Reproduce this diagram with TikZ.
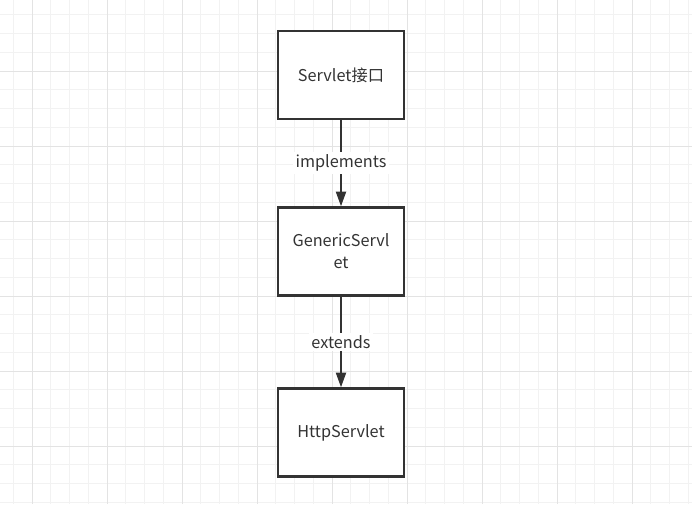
\documentclass[tikz,border=0pt]{standalone}
\usepackage{fontspec}
\usepackage{tikz}
\usetikzlibrary{arrows.meta}
\newfontfamily\cjk{Noto Sans CJK SC}
\definecolor{ink}{HTML}{333333}
\definecolor{gridminor}{HTML}{F2F2F2}
\definecolor{gridmajor}{HTML}{E3E3E3}

\begin{document}
\begin{tikzpicture}[x=0.75pt,y=-0.75pt,
  box/.style={draw=ink,line width=1.8pt,fill=white,minimum width=94.5pt,minimum height=66pt,
    align=center,text=ink,font=\cjk\fontsize{12.2}{16.5}\selectfont},
  rel/.style={draw=ink,line width=1.5pt,-{Triangle[length=11pt,width=7.5pt]}},
  lab/.style={fill=white,text=ink,inner sep=2pt,font=\cjk\fontsize{12.2}{16.5}\selectfont}]
\useasboundingbox (0,0) rectangle (692,504);
\fill[white] (0,0) rectangle (692,504);
% grid
\foreach \i in {0,...,36} {
\draw[gridminor,line width=0.75pt] ({13.3+18.75*\i},0) -- ({13.3+18.75*\i},504);
}
\foreach \j in {0,...,26} {
\draw[gridminor,line width=0.75pt] (0,{14.8+18.75*\j}) -- (692,{14.8+18.75*\j});
}
\foreach \i in {0,...,8} \draw[gridmajor,line width=0.75pt] ({32.3+75*\i},0) -- ({32.3+75*\i},504);
\foreach \j in {0,...,5} \draw[gridmajor,line width=0.75pt] (0,{71.3+75*\j}) -- (692,{71.3+75*\j});
% classes
\node[box] (servlet) at (341,75) {Servlet接口};
\node[box] (generic) at (341,251.5) {GenericServl\\et};
\node[box] (http) at (341,432.5) {HttpServlet};
% relations
\draw[rel] (servlet) -- node[lab] (impl) {implements} (generic);
\draw[rel] (generic) -- node[lab] (ext) {extends} (http);
\end{tikzpicture}
\end{document}
